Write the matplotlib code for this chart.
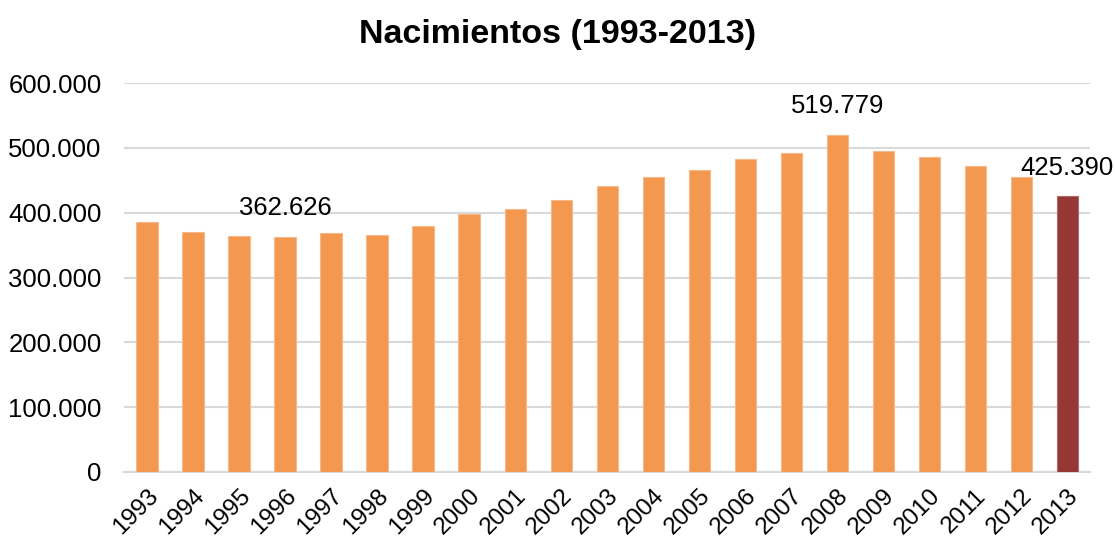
import matplotlib
matplotlib.use("Agg")
import matplotlib.pyplot as plt
from matplotlib.ticker import FuncFormatter

years = ["1993", "1994", "1995", "1996", "1997", "1998", "1999", "2000", "2001", "2002",
         "2003", "2004", "2005", "2006", "2007", "2008", "2009", "2010", "2011", "2012", "2013"]
births = [385786, 370148, 363469, 362626, 369035, 365193, 380130, 397632, 406380, 418846,
          441881, 454591, 466371, 482957, 492527, 519779, 494997, 486575, 471999, 454648, 425390]
labeled_years = ["1996", "2008", "2013"]
yticks = [0, 100000, 200000, 300000, 400000, 500000, 600000]
title = "Nacimientos (1993-2013)"

plt.rcParams['font.family'] = ['Liberation Sans', 'DejaVu Sans']

fig = plt.figure(figsize=(11.15, 5.38), dpi=100)
ax = fig.add_axes([0.1112, 0.1227, 0.8666, 0.723])

orange = "#F4984F"
dark = "#953735"
colors = [dark if y == "2013" else orange for y in years]
edges = ["#F7B98A" if y != "2013" else "#B06A68" for y in years]
x = list(range(len(years)))
ax.bar(x, births, width=0.46, color=colors, edgecolor=edges, linewidth=0.8, zorder=3)

ax.set_xlim(-0.5, len(years) - 0.5)
ax.set_ylim(0, 600000)
ax.set_yticks(yticks)
ax.yaxis.set_major_formatter(FuncFormatter(lambda v, p: f"{int(v):,}".replace(",", ".")))
ax.set_xticks(x)
ax.set_xticklabels(years, rotation=45, ha='right', rotation_mode='anchor')

ax.tick_params(axis='y', length=0, pad=16, labelsize=18.5)
ax.tick_params(axis='x', length=0, pad=9, labelsize=17.5)

ax.grid(axis='y', color='#D9D9D9', linewidth=1.5, zorder=0)
for s in ['top', 'right', 'left']:
    ax.spines[s].set_visible(False)
ax.spines['bottom'].set_color('#D9D9D9')
ax.spines['bottom'].set_linewidth(1.5)

for xi, y, v in zip(x, years, births):
    if y in labeled_years:
        ax.annotate(f"{v:,}".replace(",", "."), (xi, v), xytext=(0, 12),
                    textcoords='offset points', ha='center', va='bottom',
                    fontsize=18.5, annotation_clip=False, zorder=5)

fig.suptitle(title, fontsize=24.5, fontweight='bold', y=0.965, x=0.5)

fig.savefig("out.png", dpi=100)
